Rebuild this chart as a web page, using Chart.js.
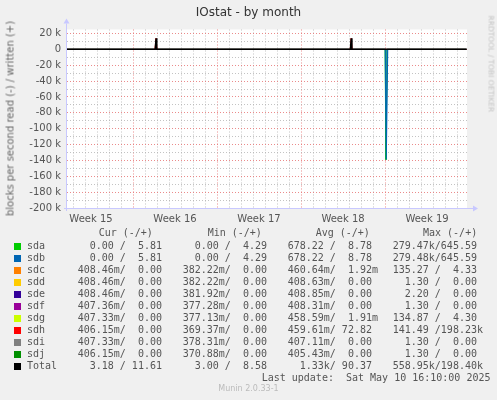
<!DOCTYPE html>
<html><head><meta charset="utf-8">
<script src="https://cdn.jsdelivr.net/npm/chart.js@4/dist/chart.umd.min.js"></script>
<style>
body{margin:0;background:#f0f0f0;}
#wrap{position:relative;width:497px;height:400px;overflow:hidden;}
canvas{position:absolute;left:0;top:0;}
.t{position:absolute;white-space:pre;font-family:"DejaVu Sans Mono",monospace;font-size:10px;color:#555;line-height:12px;}
.sq{position:absolute;width:7px;height:7px;}
.s{position:absolute;white-space:nowrap;font-family:"DejaVu Sans",sans-serif;}
</style></head><body>
<div id="wrap"><canvas id="c" width="497" height="400"></canvas></div>
<script>
// ---- data ----
const weekLabels = ["Week 15","Week 16","Week 17","Week 18","Week 19"];
const weekCenters = [2, 9, 16, 23, 30];          // day positions of labels
const weekBounds = [5.5, 12.5, 19.5, 26.5];       // day positions of week boundaries
const sdaReadX = [0, 26.5, 26.58, 26.68, 33.3];
const sdaReadY = [0, 0, -139000, 0, 0];
const sdbReadX = [0, 26.52, 26.6, 26.72, 33.3];
const sdbReadY = [0, 0, -139000, 0, 0];
const sdhWriteX = [0, 7.33, 7.42, 7.5, 23.6, 23.68, 23.76, 33.3];
const sdhWriteY = [0, 0, 14000, 0, 0, 14000, 0, 0];
const totalX = [0, 7.35, 7.42, 7.48, 23.62, 23.68, 23.74, 33.3];
const totalY = [0, 0, 14000, 0, 0, 14000, 0, 0];
const devices = ["sda","sdb","sdc","sdd","sde","sdf","sdg","sdh","sdi","sdj","Total"];
const colors = ["#00CC00","#0066B3","#FF8000","#FFCC00","#330099","#990099","#CCFF00","#FF0000","#808080","#008F00","#000000"];
const curCol = ["  0.00 /  5.81","  0.00 /  5.81","408.46m/  0.00","408.46m/  0.00","408.46m/  0.00","407.36m/  0.00","407.33m/  0.00","406.15m/  0.00","407.33m/  0.00","406.15m/  0.00","  3.18 / 11.61"];
const minCol = ["  0.00 /  4.29","  0.00 /  4.29","382.22m/  0.00","382.22m/  0.00","381.92m/  0.00","377.28m/  0.00","377.13m/  0.00","369.37m/  0.00","378.31m/  0.00","370.88m/  0.00","  3.00 /  8.58"];
const avgCol = ["678.22 /  8.78","678.22 /  8.78","460.64m/  1.92m","408.63m/  0.00","408.85m/  0.00","408.31m/  0.00","458.59m/  1.91m","459.61m/ 72.82","407.11m/  0.00","405.43m/  0.00","  1.33k/ 90.37"];
const maxCol = ["279.47k/645.59","279.48k/645.59","135.27 /  4.33","  1.30 /  0.00","  2.20 /  0.00","  1.30 /  0.00","134.87 /  4.30","141.49 /198.23k","  1.30 /  0.00","  1.30 /  0.00","558.95k/198.40k"];

const pts = (xs, ys) => xs.map((x, i) => ({x, y: ys[i]}));
const bg = {id:'bg', beforeDraw(ch){const a=ch.chartArea,c=ch.ctx;c.save();c.fillStyle='#fff';c.fillRect(a.left,a.top,a.right-a.left,a.bottom-a.top);c.restore();}};
const axisArrows = {id:'arr', afterDraw(ch){const a=ch.chartArea,c=ch.ctx;c.save();c.strokeStyle='#c8c8ff';c.fillStyle='#c8c8ff';c.lineWidth=1;
 c.beginPath();c.moveTo(a.left-0.5,a.bottom+3);c.lineTo(a.left-0.5,a.top-6);c.moveTo(a.left-3,a.bottom+0.5);c.lineTo(a.right+6,a.bottom+0.5);c.stroke();
 c.beginPath();c.moveTo(a.left-3.5,a.top-6);c.lineTo(a.left+2.5,a.top-6);c.lineTo(a.left-0.5,a.top-11);c.fill();
 c.beginPath();c.moveTo(a.right+6,a.bottom-2.5);c.lineTo(a.right+6,a.bottom+3.5);c.lineTo(a.right+11,a.bottom+0.5);c.fill();c.restore();}};
const ds = (xs, ys, col, w, fill) => ({data: pts(xs, ys), borderColor: col, backgroundColor: fill || col, borderWidth: w, pointRadius: 0, tension: 0, fill: !!fill});
new Chart(document.getElementById('c'), {
  type: 'line',
  data: {datasets: [
    ds(totalX, totalY, colors[10], 1.5),
    ds(sdhWriteX, sdhWriteY, colors[7], 1, 'rgba(200,0,0,0.8)'),
    ds(sdbReadX, sdbReadY, colors[1], 1.2, 'rgba(40,150,140,0.85)'),
    ds(sdaReadX, sdaReadY, colors[0], 1)
  ]},
  plugins: [bg, axisArrows],
  options: {
    responsive: false, animation: false,
    layout: {padding: {top: 29.5, right: 30, left: 0, bottom: 0}},
    plugins: {legend: {display: false}, tooltip: {enabled: false}},
    scales: {
      x: {type: 'linear', min: 0, max: 33.33,
        afterFit: s => { s.height = 192; },
        afterBuildTicks: s => { const t = []; for (let v = 0.5; v < 33.33; v += 0.5) t.push({value: v}); s.ticks = t; },
        border: {display: false, dash: [1, 2]},
        grid: {drawTicks: false,
          color: c => { const v = c.tick && c.tick.value; if (weekBounds.some(b => Math.abs(b - v) < 1e-6)) return 'rgba(230,110,110,0.8)'; return (Math.abs(v % 1 - 0.5) < 1e-6) ? 'rgba(170,170,170,0.7)' : 'rgba(0,0,0,0)'; }},
        ticks: {autoSkip: false, maxRotation: 0, padding: 5, color: '#555', font: {family: 'DejaVu Sans', size: 10},
          callback: v => { const i = weekCenters.findIndex(w => Math.abs(w - v) < 1e-6); return i >= 0 ? weekLabels[i] : ''; }}
      },
      y: {type: 'linear', min: -200000, max: 25000,
        afterFit: s => { s.width = 67; },
        afterBuildTicks: s => { const t = []; for (let v = -200000; v <= 20000; v += 10000) t.push({value: v}); s.ticks = t; },
        border: {display: false, dash: [1, 2]},
        grid: {drawTicks: false,
          color: c => { const v = c.tick && c.tick.value; return (v % 20000 === 0) ? 'rgba(230,110,110,0.8)' : 'rgba(170,170,170,0.7)'; }},
        ticks: {autoSkip: false, padding: 6, color: '#555', font: {family: 'DejaVu Sans', size: 10},
          callback: v => (v % 20000 === 0) ? (v === 0 ? '0' : (v / 1000) + ' k') : ''}
      }
    }
  }
});
// ---- HTML text ----
const wrap = document.getElementById('wrap');
function add(cls, txt, x, y, extra) { const d = document.createElement('div'); d.className = cls; d.textContent = txt; d.style.left = x + 'px'; d.style.top = y + 'px'; if (extra) Object.assign(d.style, extra); wrap.appendChild(d); return d; }
add('s', 'IOstat - by month', 0, 5, {width: '497px', textAlign: 'center', fontSize: '12px', color: '#333'});
add('s', 'blocks per second read (-) / written (+)', -100, 113, {width: '220px', textAlign: 'center', fontSize: '10px', color: '#666', transform: 'rotate(-90deg)'});
add('s', 'RRDTOOL / TOBI OETIKER', 426, 76, {width: '130px', textAlign: 'left', fontSize: '7.5px', color: '#c4c4c4', transform: 'rotate(90deg)'});
const rowY0 = 240;
add('t', 'Cur (-/+)', 98.7, 227); add('t', 'Min (-/+)', 207.7, 227); add('t', 'Avg (-/+)', 315.7, 227); add('t', 'Max (-/+)', 423, 227);
devices.forEach((d, i) => {
  const y = rowY0 + i * 12;
  const sq = document.createElement('div'); sq.className = 'sq'; sq.style.left = '14px'; sq.style.top = (y + 3) + 'px'; sq.style.background = colors[i]; wrap.appendChild(sq);
  add('t', d, 27, y); add('t', curCol[i], 77.7, y); add('t', minCol[i], 182.7, y); add('t', avgCol[i], 287.7, y); add('t', maxCol[i], 392.7, y);
});
add('t', 'Last update:  Sat May 10 16:10:00 2025', 261.7, 372);
add('s', 'Munin 2.0.33-1', 0, 384, {width: '497px', textAlign: 'center', fontSize: '8px', color: '#bbb'});
</script></body></html>
